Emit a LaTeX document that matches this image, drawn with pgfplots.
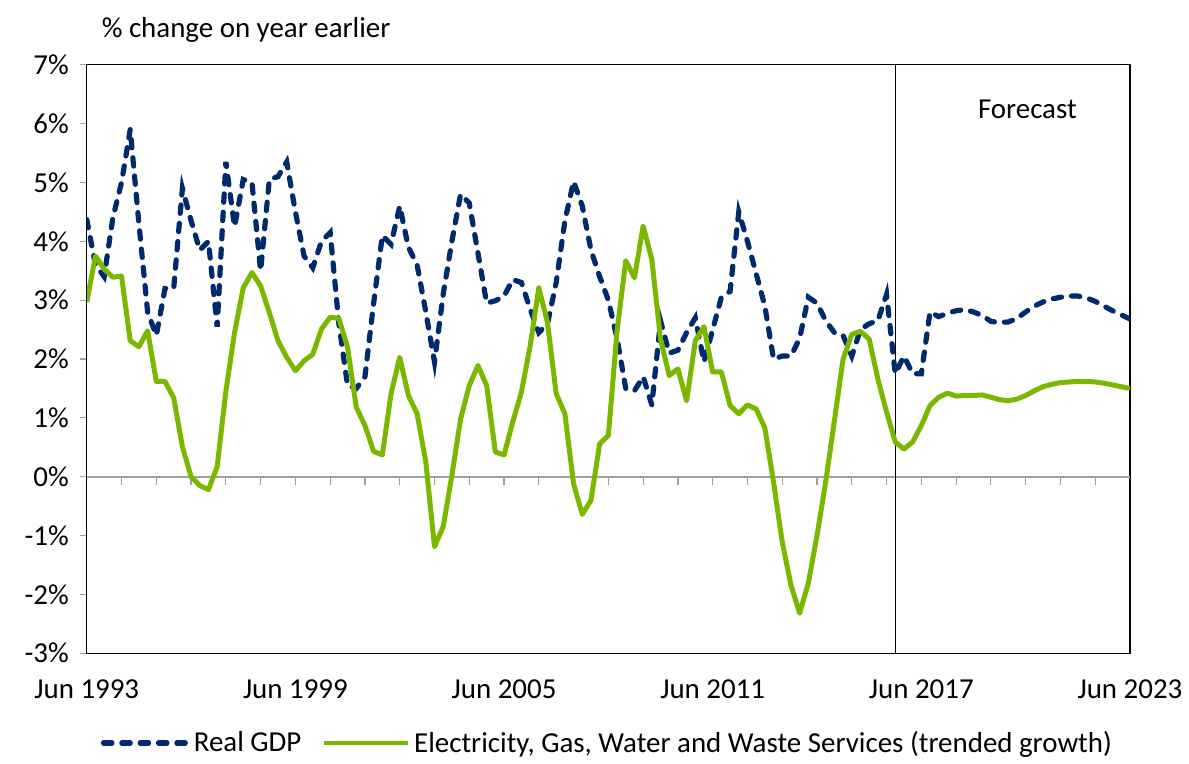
\documentclass[border=0pt]{standalone}
\usepackage{fontspec}
\setmainfont{Carlito}
\usepackage{pgfplots}
\usepackage{pgfplotstable}
\pgfplotsset{compat=1.18}
\definecolor{gdpblue}{RGB}{0,42,110}
\definecolor{elecgreen}{RGB}{122,184,0}
\definecolor{axisgray}{RGB}{160,160,160}

% quarterly, q=0 is Jun 1993
\pgfplotstableread{
q gdp elec
0 4.37 2.97
1 3.60 3.75
2 3.40 3.53
3 4.40 3.39
4 5.00 3.41
5 5.90 2.31
6 4.30 2.21
7 2.80 2.48
8 2.40 1.62
9 3.20 1.62
10 3.20 1.34
11 4.90 0.51
12 4.35 0.00
13 3.85 -0.15
14 4.00 -0.22
15 2.55 0.17
16 5.35 1.45
17 4.25 2.45
18 5.05 3.21
19 5.00 3.47
20 3.50 3.24
21 5.05 2.79
22 5.10 2.31
23 5.35 2.03
24 4.50 1.80
25 3.75 1.97
26 3.55 2.08
27 4.00 2.51
28 4.15 2.71
29 2.60 2.69
30 1.55 2.20
31 1.50 1.18
32 1.70 0.87
33 2.95 0.43
34 4.10 0.37
35 3.95 1.41
36 4.60 2.03
37 3.90 1.38
38 3.60 1.07
39 2.80 0.25
40 1.95 -1.19
41 3.10 -0.85
42 4.00 0.02
43 4.80 0.98
44 4.65 1.55
45 3.80 1.89
46 2.95 1.55
47 2.99 0.42
48 3.07 0.37
49 3.35 0.93
50 3.30 1.44
51 2.85 2.22
52 2.45 3.21
53 2.60 2.62
54 3.30 1.41
55 4.35 1.07
56 5.02 -0.12
57 4.60 -0.64
58 3.85 -0.40
59 3.40 0.56
60 3.00 0.70
61 2.35 2.48
62 1.50 3.67
63 1.46 3.38
64 1.70 4.26
65 1.22 3.69
66 2.65 2.34
67 2.10 1.72
68 2.15 1.83
69 2.45 1.29
70 2.70 2.31
71 1.95 2.55
72 2.50 1.78
73 3.05 1.78
74 3.15 1.21
75 4.50 1.07
76 4.00 1.22
77 3.45 1.15
78 2.90 0.83
79 2.00 -0.09
80 2.05 -1.11
81 2.05 -1.84
82 2.35 -2.32
83 3.05 -1.81
84 2.95 -1.00
85 2.65 -0.09
86 2.45 0.95
87 2.40 2.00
88 2.05 2.42
89 2.50 2.47
90 2.60 2.34
91 2.65 1.66
92 3.10 1.10
93 1.75 0.59
94 2.05 0.47
95 1.75 0.59
96 1.75 0.87
97 2.80 1.21
98 2.72 1.35
99 2.78 1.42
100 2.82 1.37
101 2.84 1.38
102 2.80 1.38
103 2.74 1.39
104 2.64 1.35
105 2.62 1.31
106 2.63 1.29
107 2.69 1.32
108 2.80 1.38
109 2.90 1.46
110 2.97 1.53
111 3.02 1.57
112 3.05 1.60
113 3.07 1.61
114 3.07 1.62
115 3.04 1.62
116 2.98 1.61
117 2.90 1.59
118 2.82 1.56
119 2.75 1.53
120 2.68 1.50
}\gdpdata

\begin{document}
\begin{tikzpicture}
\begin{axis}[
  name=ax,
  scale only axis, width=523pt, height=295pt,
  xmin=0, xmax=120, ymin=-3, ymax=7,
  font=\fontsize{14.5}{17}\selectfont,
  /pgf/number format/assume math mode=true,
  axis line style={black, line width=0.6pt},
  tick align=outside,
  xtick={0,24,48,72,96,120},
  xticklabels={Jun 1993,Jun 1999,Jun 2005,Jun 2011,Jun 2017,Jun 2023},
  x tick style={draw=none},
  xticklabel style={yshift=-6pt},
  ytick={-3,-2,...,7},
  ytick pos=left,
  yticklabel={\pgfmathprintnumber{\tick}\%},
  yticklabel style={xshift=-2pt},
  y tick style={axisgray, line width=0.6pt},
  major tick length=3.5pt,
  minor tick num=0,
  legend style={at={(0.5,0)}, anchor=center, yshift=-45pt, draw=none,
    legend columns=2, font=\fontsize{14.5}{17}\selectfont,
    /tikz/every even column/.append style={column sep=8pt}},
  legend image code/.code={\draw[#1] (0pt,0pt) -- (42pt,0pt);},
]
\draw[axisgray, line width=0.8pt] (axis cs:0,0) -- (axis cs:120,0);
\pgfplotsinvokeforeach{4,8,...,116}{
  \draw[axisgray, line width=0.6pt] (axis cs:#1,0) -- ++(0pt,-4pt);
}
\draw[black, line width=0.6pt] (axis cs:93,-3) -- (axis cs:93,7);
\node at (axis cs:108.2,6.24) {Forecast};

\addplot[gdpblue, line width=2.6pt, line cap=round, dash pattern=on 4.2pt off 5pt]
  table[x=q, y=gdp] {\gdpdata};
\addlegendentry{Real GDP}
\addplot[elecgreen, line width=2.5pt, line join=round]
  table[x=q, y=elec] {\gdpdata};
\addlegendentry{Electricity, Gas, Water and Waste Services (trended growth)}
\end{axis}
\node[anchor=base west, font=\fontsize{14.5}{17}\selectfont]
  at ([xshift=4pt, yshift=13.5pt]ax.north west) {\% change on year earlier};
\path ([xshift=-43.5pt, yshift=-52.5pt]ax.south west)
  rectangle ([xshift=28pt, yshift=32.5pt]ax.north east);
\end{tikzpicture}
\end{document}
